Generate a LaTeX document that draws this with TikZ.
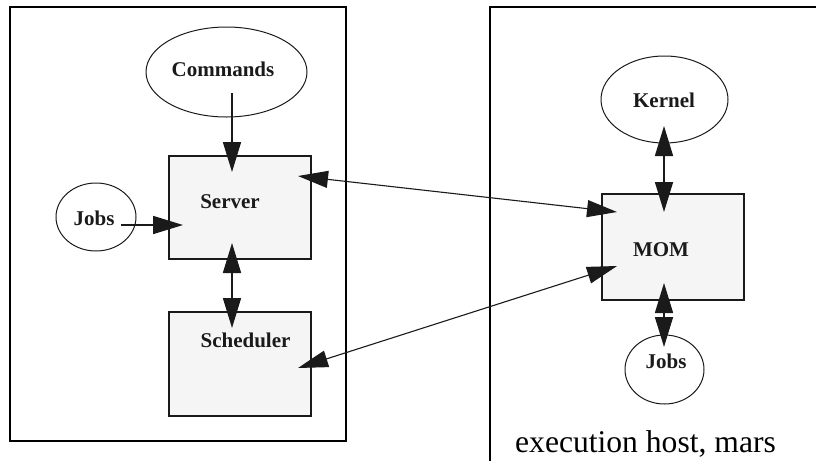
\documentclass[tikz,border=0pt]{standalone}
\usepackage{fontspec}
\setmainfont{Liberation Serif}
\usetikzlibrary{arrows.meta,shapes.geometric,calc}
\definecolor{boxfill}{HTML}{F5F5F5}
\definecolor{ink}{HTML}{1A1A1A}
\tikzset{
  frame/.style={line width=2pt, draw=black},
  procbox/.style={draw=ink, line width=2pt, fill=boxfill, rectangle, inner sep=0pt},
  oval/.style={draw=ink, line width=1pt, ellipse, inner sep=0pt},
  lbl/.style={anchor=base, text=ink, font=\fontsize{21}{25}\selectfont\bfseries, inner sep=0pt},
  tip/.style={Triangle[length=30pt,width=18pt]},
  arr/.style={draw=ink, line width=1.6pt, -{Triangle[length=30pt,width=18pt]}},
  darr/.style={draw=ink, line width=1.6pt, {Triangle[length=30pt,width=18pt]}-{Triangle[length=30pt,width=18pt]}},
  thinarr/.style={draw=ink, line width=1.1pt, {Triangle[length=30pt,width=17pt]}-{Triangle[length=30pt,width=17pt]}}
}
\begin{document}
\begin{tikzpicture}[x=1pt,y=-1pt]
\useasboundingbox (0,0) rectangle (816,461);
% frames
\draw[frame] (10,7) rectangle (346,441);
\draw[frame] (816,7) -- (490,7) -- (490,461);
% boxes
\node[procbox, minimum width=142pt, minimum height=103pt] (server) at (240,207.5) {};
\node[procbox, minimum width=142pt, minimum height=104pt] (sched) at (240,364) {};
\node[procbox, minimum width=142pt, minimum height=106pt] (mom) at (673,247) {};
% ovals
\node[oval, minimum width=161pt, minimum height=90pt] (cmd) at (226.5,72) {};
\node[oval, minimum width=80pt, minimum height=68pt] (jobsl) at (96,217) {};
\node[oval, minimum width=127pt, minimum height=87pt] (kernel) at (664.5,99.5) {};
\node[oval, minimum width=79pt, minimum height=69pt] (jobsr) at (664.5,369.5) {};
% labels
\node[lbl] (cmdt) at (223,76) {Commands};
\node[lbl] (servert) at (230,208) {Server};
\node[lbl] (jobslt) at (94,225) {Jobs};
\node[lbl] (schedt) at (245.5,347) {Scheduler};
\node[lbl] (momt) at (661,256) {MOM};
\node[lbl] (kernelt) at (664,107) {Kernel};
\node[lbl] (jobsrt) at (666,368) {Jobs};
\node[anchor=base, inner sep=0pt, font=\fontsize{31.6}{36}\selectfont] (exec) at (645.5,452) {execution host, mars};
% connectors
\draw[arr] ($(cmd.center)+(5.5,21)$) -- ($(server.center)+(-8,-35.5)$);
\draw[arr] ($(jobsl.center)+(25,8)$) -- ($(server.center)+(-57,17.5)$);
\draw[darr] ($(server.center)+(-8,35.5)$) -- ($(sched.center)+(-8,-36)$);
\draw[thinarr] ($(server.center)+(58,-31.5)$) -- ($(mom.center)+(-56,-35)$);
\draw[thinarr] ($(sched.center)+(58,4)$) -- ($(mom.center)+(-56,19)$);
\draw[darr] ($(kernel.center)+(-0.5,26.5)$) -- ($(mom.center)+(-9,-35)$);
\draw[darr] ($(mom.center)+(-9,36)$) -- ($(jobsr.center)+(-0.5,-22.5)$);
\end{tikzpicture}
\end{document}
